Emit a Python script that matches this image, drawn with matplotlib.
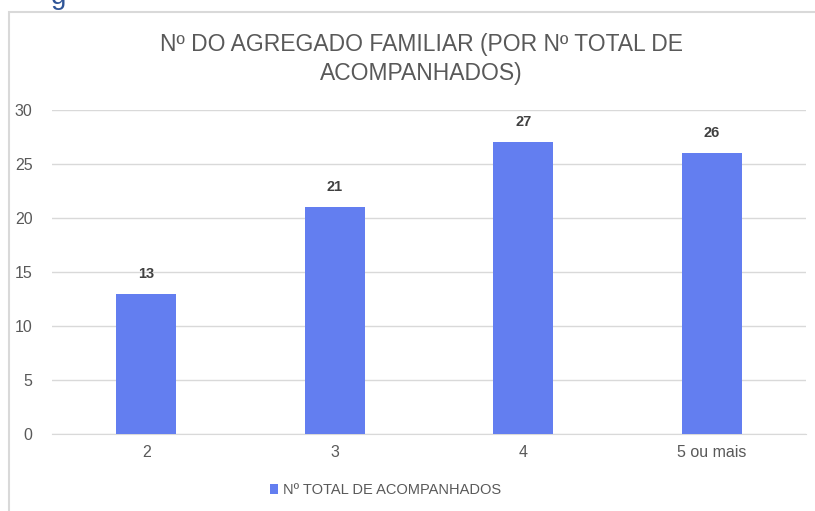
import matplotlib
matplotlib.use('Agg')
import matplotlib.pyplot as plt
from matplotlib.patches import Rectangle

categories = ['2', '3', '4', '5 ou mais']
values = [13, 21, 27, 26]
series_name = 'Nº TOTAL DE ACOMPANHADOS'
title = 'Nº DO AGREGADO FAMILIAR (POR Nº TOTAL DE\nACOMPANHADOS)'

plt.rcParams['font.family'] = ['Liberation Sans Narrow', 'DejaVu Sans Condensed',
                               'Liberation Sans', 'DejaVu Sans']

bar_color = '#637ef0'
text_color = '#595959'
grid_color = '#d9d9d9'

fig = plt.figure(figsize=(8.15, 5.11), dpi=100)

# outer frame of the chart box and the cut-off heading above it
fig.patches.append(Rectangle((9 / 815, -0.1), 1.2, 1 - 12 / 511 + 0.1,
                             transform=fig.transFigure, fill=False,
                             edgecolor='#d9d9d9', linewidth=1.5))
fig.text(59 / 815, 1 - 4 / 511, 'g', color='#2f5597', fontsize=20,
         ha='center', va='baseline')

ax = fig.add_axes([52 / 815, 1 - 434 / 511, (806 - 52) / 815, (434 - 110) / 511])
x = range(len(categories))
bars = ax.bar(x, values, width=0.32, color=bar_color, label=series_name, zorder=3)

for b, v in zip(bars, values):
    ax.text(b.get_x() + b.get_width() / 2, v + 1.2, str(v), ha='center', va='bottom',
            fontsize=10.5, fontweight='bold', color='#404040')

ax.set_xlim(-0.5, len(categories) - 0.5)
ax.set_ylim(0, 30)
ax.set_yticks(range(0, 31, 5))
ax.set_xticks(list(x))
ax.set_xticklabels(categories)
ax.grid(axis='y', color=grid_color, linewidth=1, zorder=0)
for s in ['top', 'right', 'left']:
    ax.spines[s].set_visible(False)
ax.spines['bottom'].set_color(grid_color)
ax.tick_params(axis='both', length=0, labelsize=11.5, colors=text_color)
ax.tick_params(axis='y', pad=14)
ax.tick_params(axis='x', pad=8)

fig.text(421 / 815, 1 - 59 / 511, title, ha='center', va='center',
         fontsize=16.5, color=text_color, linespacing=1.35)

ax.legend(loc='center', bbox_to_anchor=(0.442, -0.173), frameon=False,
          fontsize=10.5, handlelength=0.6, handleheight=0.6, handletextpad=0.3,
          labelcolor=text_color)

fig.savefig('out.png', dpi=100)
